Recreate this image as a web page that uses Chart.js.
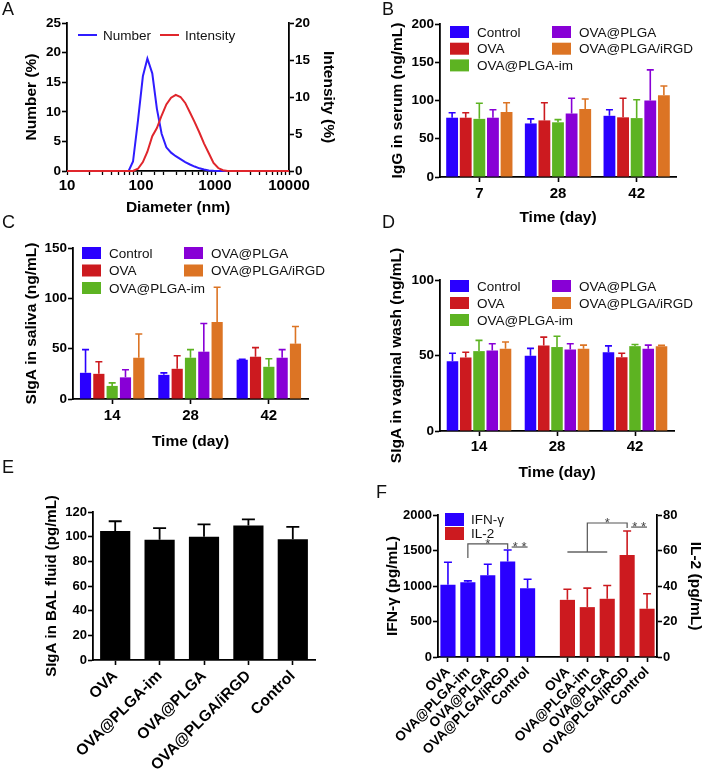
<!DOCTYPE html>
<html>
<head>
<meta charset="utf-8">
<script src="https://cdn.jsdelivr.net/npm/chart.js@4.4.1/dist/chart.umd.min.js"></script>
<style>
  html, body { margin: 0; padding: 0; background: #fff; overflow: hidden; }
  #page { position: relative; width: 703px; height: 777px; }
  .panel { position: absolute; }
  .panel canvas { display: block; }
  .tag { position: absolute; font: 18px "Liberation Sans", Arial, sans-serif; line-height: 1; color: #111; }
</style>
</head>
<body>
<div id="page">
  <div class="panel" style="left:0;top:0"><canvas id="chartA" width="350" height="222"></canvas></div>
  <div class="panel" style="left:350px;top:0"><canvas id="chartB" width="353" height="230"></canvas></div>
  <div class="panel" style="left:0;top:205px"><canvas id="chartC" width="350" height="250"></canvas></div>
  <div class="panel" style="left:350px;top:210px"><canvas id="chartD" width="353" height="276"></canvas></div>
  <div class="panel" style="left:0;top:455px"><canvas id="chartE" width="350" height="322"></canvas></div>
  <div class="panel" style="left:350px;top:470px"><canvas id="chartF" width="353" height="307"></canvas></div>
  <div class="tag" style="left:2px;top:0">A</div>
  <div class="tag" style="left:382px;top:0">B</div>
  <div class="tag" style="left:2px;top:213px">C</div>
  <div class="tag" style="left:382px;top:213px">D</div>
  <div class="tag" style="left:2px;top:458px">E</div>
  <div class="tag" style="left:376px;top:483px">F</div>
</div>
<script>
// ---- data ----
const diameters    = [10, 68, 78, 91, 106, 122, 142, 164, 190, 220, 255, 295, 342, 396, 459, 531, 615, 712, 825, 955, 1106, 1281, 1484, 1718, 10000];
const numberPct    = [0, 0, 1.6, 8.5, 16, 19, 16.5, 10.5, 6.3, 4.0, 3.1, 2.5, 2.0, 1.5, 1.1, 0.75, 0.45, 0.25, 0.1, 0.03, 0, 0, 0, 0, 0];
const intensityPct = [0, 0, 0, 0.3, 1.2, 2.6, 4.7, 5.8, 7.5, 9.0, 9.9, 10.3, 10.0, 9.2, 7.9, 6.6, 5.2, 3.7, 2.4, 1.1, 0.4, 0.1, 0, 0, 0];
const decadeTicks  = [10, 100, 1000, 10000];

const groupNames = ["Control", "OVA", "OVA@PLGA-im", "OVA@PLGA", "OVA@PLGA/iRGD"];

const serumDays = ["7", "28", "42"];
const serumMean = [[77.5, 70, 80], [77.5, 74, 78], [76, 71.5, 77], [77.5, 83, 100], [85, 89, 107]];
const serumSd   = [[6.5, 6, 8], [6.5, 23, 25], [20.5, 3.5, 24], [10.5, 20, 40], [12, 13, 12]];

const mucosalDays = ["14", "28", "42"];
const salivaMean = [[26, 24, 39], [25, 30, 42], [13, 41, 32], [21.5, 47, 41], [41, 76.5, 55]];
const salivaSd   = [[23, 2, 0.5], [12, 13, 9], [3, 8, 8], [7.5, 28, 8], [23.5, 34.5, 17]];

const vaginalMean = [[46.2, 49.8, 52.2], [48.7, 56.7, 48.9], [52.9, 55.6, 56.2], [53.3, 54, 54.4], [54.4, 54.4, 56.2]];
const vaginalSd   = [[5.3, 4.9, 4.2], [3.5, 5.5, 2.6], [7.1, 7.1, 1.1], [4.5, 3.8, 2.5], [4.5, 2.5, 0.5]];

const balLabels = ["OVA", "OVA@PLGA-im", "OVA@PLGA", "OVA@PLGA/iRGD", "Control"];
const balMean = [104.5, 97.5, 100, 109, 98];
const balSd   = [8, 9.5, 10, 5, 10];

const cytoLabels = ["OVA", "OVA@PLGA-im", "OVA@PLGA", "OVA@PLGA/iRGD", "Control"];
const ifnMean = [1016, 1054, 1152, 1344, 969];
const ifnSd   = [319, 18, 155, 164, 127];
const il2Mean = [32.2, 28.1, 32.8, 57.5, 27.2];
const il2Sd   = [6, 10.7, 7.5, 13.5, 8.4];

// ---- styles ----
const palette = ["#2a00ff", "#cc1a1f", "#5db322", "#8800d6", "#dc7424"];
const FONT = '"Liberation Sans", Arial, Helvetica, sans-serif';
const legendSlots = [[0, 0], [0, 1], [0, 2], [1, 0], [1, 1]];

Chart.defaults.font.family = FONT;
Chart.defaults.color = "#000";
Chart.defaults.animation = false;
Chart.defaults.plugins.legend.display = false;
Chart.defaults.plugins.tooltip.enabled = false;

// ---- helpers ----
function errorBars(capW, lineW) {
    return {
        id: "errorBars",
        afterDatasetsDraw(chart) {
            const ctx = chart.ctx;
            chart.data.datasets.forEach((ds, i) => {
                if (!ds.sd) return;
                const meta = chart.getDatasetMeta(i);
                const ys = chart.scales[meta.yAxisID];
                meta.data.forEach((bar, j) => {
                    const v = ds.data[j];
                    if (v == null || ds.sd[j] == null) return;
                    const top = ys.getPixelForValue(v + ds.sd[j]);
                    ctx.save();
                    ctx.strokeStyle = ds.errColor || ds.backgroundColor;
                    ctx.lineWidth = lineW;
                    ctx.beginPath();
                    ctx.moveTo(bar.x, bar.y);
                    ctx.lineTo(bar.x, top);
                    ctx.moveTo(bar.x - capW / 2, top);
                    ctx.lineTo(bar.x + capW / 2, top);
                    ctx.stroke();
                    ctx.restore();
                });
            });
        }
    };
}

function boxLegend(cfg) {
    return {
        id: "boxLegend",
        afterDraw(chart) {
            const { ctx, chartArea } = chart;
            ctx.save();
            ctx.font = "13.5px " + FONT;
            ctx.textBaseline = "middle";
            cfg.items.forEach((it) => {
                const x = chartArea.left + cfg.dx + it.col * cfg.colW;
                const y = chartArea.top + cfg.dy + it.row * cfg.rowH;
                if (cfg.kind === "line") {
                    ctx.strokeStyle = it.color;
                    ctx.lineWidth = 2;
                    ctx.beginPath();
                    ctx.moveTo(x, y);
                    ctx.lineTo(x + cfg.symW, y);
                    ctx.stroke();
                } else {
                    ctx.fillStyle = it.color;
                    ctx.fillRect(x, y - cfg.symH / 2, cfg.symW, cfg.symH);
                }
                ctx.fillStyle = "#111";
                ctx.fillText(it.text, x + cfg.gap, y + 1);
            });
            ctx.restore();
        }
    };
}

function axisTitles(items) {
    return {
        id: "axisTitles",
        afterDraw(chart) {
            const ctx = chart.ctx;
            items.forEach((t) => {
                const s = chart.scales[t.axis];
                ctx.save();
                ctx.font = "bold " + (t.size || 15.5) + "px " + FONT;
                ctx.fillStyle = "#000";
                ctx.textAlign = "center";
                ctx.textBaseline = "middle";
                if (s.position === "bottom") {
                    ctx.fillText(t.text, (s.left + s.right) / 2, s.bottom - t.offset);
                } else {
                    const x = s.position === "left" ? s.left + t.offset : s.right - t.offset;
                    ctx.translate(x, (s.top + s.bottom) / 2);
                    ctx.rotate(s.position === "left" ? -Math.PI / 2 : Math.PI / 2);
                    ctx.fillText(t.text, 0, 0);
                }
                ctx.restore();
            });
        }
    };
}

function sigMarks(cfg) {
    return {
        id: "sigMarks",
        afterDatasetsDraw(chart) {
            const { ctx, scales } = chart;
            ctx.save();
            cfg.lines.forEach((p) => {
                const ys = scales[p.axis];
                ctx.strokeStyle = p.color;
                ctx.lineWidth = p.width;
                ctx.beginPath();
                p.pts.forEach(([c, v], k) => {
                    const X = scales.x.getPixelForValue(c), Y = ys.getPixelForValue(v);
                    if (k) ctx.lineTo(X, Y); else ctx.moveTo(X, Y);
                });
                ctx.stroke();
            });
            ctx.font = "13px " + FONT;
            ctx.fillStyle = "#444";
            ctx.textAlign = "center";
            ctx.textBaseline = "alphabetic";
            cfg.stars.forEach((s) => {
                const X = scales.x.getPixelForValue(s.at[0]);
                const Y = scales[s.axis].getPixelForValue(s.at[1]);
                ctx.fillText(s.text, X, Y + 4);
            });
            ctx.restore();
        }
    };
}

function valueAxis(o) {
    return {
        position: o.position || "left",
        min: 0,
        max: o.max,
        afterFit: (s) => { s.width = o.width; },
        ticks: {
            stepSize: o.step,
            font: { size: o.tickSize || 13.5, weight: "bold" },
            padding: 1,
            color: "#000",
            callback: (v) => String(v)
        },
        grid: { drawOnChartArea: false, tickLength: 5, tickColor: "#000", tickWidth: 1.6 },
        border: { display: true, color: "#000", width: 1.8 }
    };
}

function categoryAxis(o) {
    return {
        afterFit: (s) => { s.height = o.height; },
        ticks: {
            font: { size: o.tickSize, weight: "bold" },
            padding: o.pad == null ? 3 : o.pad,
            autoSkip: false,
            minRotation: o.rot || 0,
            maxRotation: o.rot || 0,
            color: "#000"
        },
        grid: {
            offset: false,
            drawOnChartArea: false,
            tickLength: 5,
            tickWidth: 1.6,
            tickColor: o.tickColor || "#000"
        },
        border: { display: true, color: "#000", width: 1.8 }
    };
}

// ---- A: size distribution ----
new Chart(document.getElementById("chartA"), {
    type: "line",
    data: {
        datasets: [
            {
                label: "Intensity",
                data: diameters.map((d, i) => ({ x: d, y: intensityPct[i] })),
                yAxisID: "y2",
                borderColor: "#e0262c",
                borderWidth: 2,
                pointRadius: 0,
                tension: 0,
                clip: false
            },
            {
                label: "Number",
                data: diameters.map((d, i) => ({ x: d, y: numberPct[i] })),
                yAxisID: "y",
                borderColor: "#2f1cff",
                borderWidth: 2,
                pointRadius: 0,
                tension: 0,
                clip: false
            }
        ]
    },
    options: {
        responsive: false,
        layout: { padding: { top: 23, left: 0, right: 0, bottom: 0 } },
        scales: {
            x: {
                type: "logarithmic",
                min: 10,
                max: 10000,
                afterFit: (s) => { s.height = 51; },
                ticks: {
                    autoSkip: false,
                    maxRotation: 0,
                    padding: 2,
                    font: { size: 15, weight: "bold" },
                    color: "#000",
                    callback: (v) => decadeTicks.includes(Math.round(v)) ? String(Math.round(v)) : ""
                },
                grid: { drawOnChartArea: false, tickLength: 4, tickColor: "#000", tickWidth: 1.3 },
                border: { display: true, color: "#000", width: 1.8 }
            },
            y: valueAxis({ max: 25, step: 5, width: 67 }),
            y2: valueAxis({ max: 20, step: 5, width: 61, position: "right" })
        }
    },
    plugins: [
        axisTitles([
            { axis: "y", text: "Number (%)", offset: 32 },
            { axis: "y2", text: "Intensity (%)", offset: 22 },
            { axis: "x", text: "Diameter (nm)", offset: 14 }
        ]),
        boxLegend({
            kind: "line", dx: 11, dy: 12, colW: 82, rowH: 0, symW: 19, symH: 2, gap: 25,
            items: [
                { text: "Number", color: "#2f1cff", col: 0, row: 0 },
                { text: "Intensity", color: "#e0262c", col: 1, row: 0 }
            ]
        })
    ]
});

// ---- B, C, D: grouped bars over time ----
function groupedBars(id, days, means, sds, yMax, yStep, L) {
    new Chart(document.getElementById(id), {
        type: "bar",
        data: {
            labels: days,
            datasets: groupNames.map((name, g) => ({
                label: name,
                data: means[g],
                sd: sds[g],
                backgroundColor: palette[g],
                borderWidth: 0,
                categoryPercentage: L.catPct,
                barPercentage: L.barPct
            }))
        },
        options: {
            responsive: false,
            layout: { padding: { top: L.top, right: L.right, left: 0, bottom: 0 } },
            scales: {
                x: categoryAxis({ height: L.xHeight, tickSize: 15, pad: L.tickPad }),
                y: valueAxis({ max: yMax, step: yStep, width: L.yWidth })
            }
        },
        plugins: [
            errorBars(7, 1.6),
            axisTitles([
                { axis: "y", text: L.yTitle, offset: L.yTitleOff },
                { axis: "x", text: "Time (day)", offset: L.xTitleOff }
            ]),
            boxLegend({
                kind: "box", dx: L.lgDx, dy: L.lgDy, colW: 102, rowH: L.lgRow, symW: 19, symH: 12, gap: 27,
                items: groupNames.map((n, g) => ({ text: n, color: palette[g], col: legendSlots[g][0], row: legendSlots[g][1] }))
            })
        ]
    });
}

groupedBars("chartB", serumDays, serumMean, serumSd, 200, 50, {
    catPct: 0.865, barPct: 0.87, top: 24, right: 27, xHeight: 53, yWidth: 90, tickPad: 3,
    yTitle: "IgG in serum (ng/mL)", yTitleOff: 48, xTitleOff: 12, lgDx: 10, lgDy: 8, lgRow: 16.7
});

groupedBars("chartC", mucosalDays, salivaMean, salivaSd, 150, 50, {
    catPct: 0.85, barPct: 0.84, top: 43, right: 42, xHeight: 56, yWidth: 73, tickPad: 3,
    yTitle: "SIgA in saliva (ng/mL)", yTitleOff: 32, xTitleOff: 13, lgDx: 9, lgDy: 5, lgRow: 17.5
});

groupedBars("chartD", mucosalDays, vaginalMean, vaginalSd, 100, 50, {
    catPct: 0.85, barPct: 0.87, top: 70, right: 29, xHeight: 55, yWidth: 90, tickPad: 2,
    yTitle: "SIgA in vaginal wash (ng/mL)", yTitleOff: 47, xTitleOff: 13, lgDx: 10, lgDy: 6, lgRow: 17
});

// ---- E: SIgA in BAL fluid ----
new Chart(document.getElementById("chartE"), {
    type: "bar",
    data: {
        labels: balLabels,
        datasets: [{
            data: balMean,
            sd: balSd,
            backgroundColor: "#000",
            borderWidth: 0,
            categoryPercentage: 1,
            barPercentage: 0.68
        }]
    },
    options: {
        responsive: false,
        layout: { padding: { top: 57, right: 35, left: 0, bottom: 0 } },
        scales: {
            x: categoryAxis({ height: 117, tickSize: 15.5, rot: 45, pad: 2 }),
            y: valueAxis({ max: 120, step: 20, width: 93, tickSize: 13 })
        }
    },
    plugins: [
        errorBars(13, 1.8),
        axisTitles([{ axis: "y", text: "SIgA in BAL fluid (pg/mL)", offset: 52, size: 15 }])
    ]
});

// ---- F: IFN-γ and IL-2 ----
const spacer = 1;
new Chart(document.getElementById("chartF"), {
    type: "bar",
    data: {
        labels: [...cytoLabels, "", ...cytoLabels],
        datasets: [
            {
                label: "IFN-γ",
                data: ifnMean.concat(Array(spacer + il2Mean.length).fill(null)),
                sd: ifnSd.concat(Array(spacer + il2Sd.length).fill(null)),
                yAxisID: "y",
                backgroundColor: palette[0],
                borderWidth: 0,
                grouped: false,
                categoryPercentage: 1,
                barPercentage: 0.76
            },
            {
                label: "IL-2",
                data: Array(ifnMean.length + spacer).fill(null).concat(il2Mean),
                sd: Array(ifnSd.length + spacer).fill(null).concat(il2Sd),
                yAxisID: "y2",
                backgroundColor: palette[1],
                borderWidth: 0,
                grouped: false,
                categoryPercentage: 1,
                barPercentage: 0.76
            }
        ]
    },
    options: {
        responsive: false,
        layout: { padding: { top: 45, right: 0, left: 0, bottom: 0 } },
        scales: {
            x: categoryAxis({
                height: 120, tickSize: 13.5, rot: 45, pad: 2,
                tickColor: (c) => (c.index === cytoLabels.length ? "rgba(0,0,0,0)" : "#000")
            }),
            y: valueAxis({ max: 2000, step: 500, width: 88, tickSize: 13 }),
            y2: valueAxis({ max: 80, step: 20, width: 46, tickSize: 13, position: "right" })
        }
    },
    plugins: [
        errorBars(8, 1.6),
        sigMarks({
            lines: [
                { axis: "y", color: "#555", width: 1.2, pts: [[1, 1394], [1, 1592], [3, 1592], [3, 1521]] },
                { axis: "y", color: "#555", width: 1.2, pts: [[3.2, 1549], [4, 1549]] },
                { axis: "y2", color: "#8a8a8a", width: 2, pts: [[6, 59.2], [8, 59.2]] },
                { axis: "y2", color: "#555", width: 1.2, pts: [[7, 59.2], [7, 75.5], [9, 75.5], [9, 72.7]] },
                { axis: "y2", color: "#555", width: 1.2, pts: [[9.2, 73.2], [10, 73.2]] }
            ],
            stars: [
                { axis: "y", at: [2, 1592], text: "*" },
                { axis: "y", at: [3.6, 1549], text: "* *" },
                { axis: "y2", at: [8, 75.5], text: "*" },
                { axis: "y2", at: [9.6, 73.2], text: "* *" }
            ]
        }),
        axisTitles([
            { axis: "y", text: "IFN-γ (pg/mL)", offset: 43 },
            { axis: "y2", text: "IL-2 (pg/mL)", offset: 8 }
        ]),
        boxLegend({
            kind: "box", dx: 7, dy: 4.5, colW: 0, rowH: 14, symW: 19, symH: 13, gap: 26,
            items: [
                { text: "IFN-γ", color: palette[0], col: 0, row: 0 },
                { text: "IL-2", color: palette[1], col: 0, row: 1 }
            ]
        })
    ]
});
</script>
</body>
</html>
